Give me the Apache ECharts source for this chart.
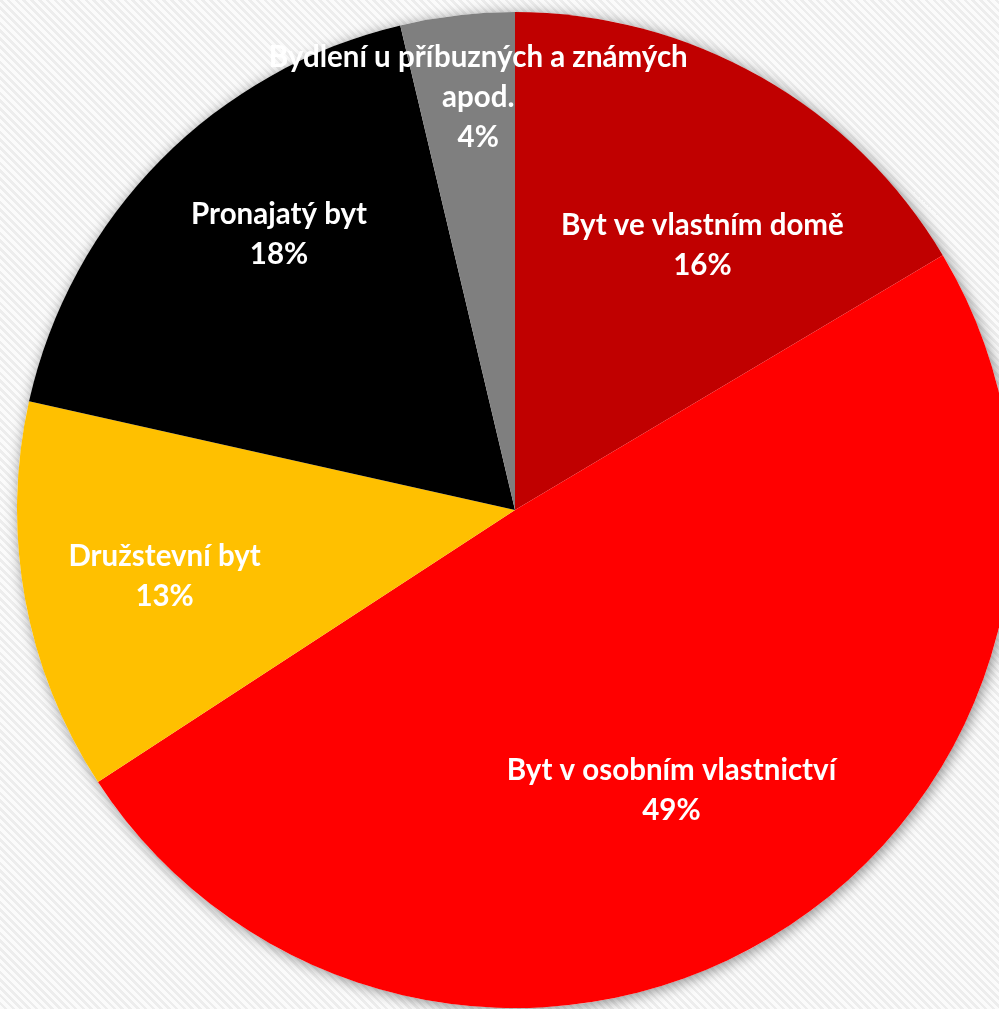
<!DOCTYPE html>
<html>
<head>
<meta charset="utf-8">
<script src="https://cdn.jsdelivr.net/npm/echarts@6/dist/echarts.min.js"></script>
<style>
html,body{margin:0;padding:0;}
body{background:repeating-linear-gradient(45deg,#fbfbfb 0px,#fbfbfb 3px,#ededed 3px,#ededed 5.5px);}
#chart{width:999px;height:1009px;}
</style>
</head>
<body>
<div id="chart"></div>
<script>
const categories = ['Byt ve vlastním domě','Byt v osobním vlastnictví','Družstevní byt','Pronajatý byt','Bydlení u příbuzných a známých apod.'];
const labelNames = ['Byt ve vlastním domě','Byt v osobním vlastnictví','Družstevní byt','Pronajatý byt','Bydlení u příbuzných a známých\napod.'];
const values = [16.45, 49.35, 12.7, 17.8, 3.7];
const colors = ['#C00000','#FF0000','#FFC000','#000000','#7F7F7F'];
const labelShift = [[18,34],[-25,-10],[-13,5],[8,-35],[3,-72]];

const total = values.reduce((a,b)=>a+b,0);
const cx = 515, cy = 510, R = 498;

const chart = echarts.init(document.getElementById('chart'), null, {renderer:'canvas'});
chart.setOption({
  backgroundColor:'transparent',
  animation:false,
  series:[
    {
      type:'pie', silent:true, z:1,
      center:[cx,cy], radius:[0,R],
      label:{show:false}, labelLine:{show:false},
      itemStyle:{color:'#ffffff', shadowBlur:14, shadowColor:'rgba(0,0,0,0.45)', shadowOffsetX:2, shadowOffsetY:2},
      data:[{value:1,name:'bg'}]
    },
    {
      type:'pie', silent:true, z:2,
      center:[cx,cy], radius:[0,R],
      startAngle:90, clockwise:true,
      label:{show:false}, labelLine:{show:false},
      itemStyle:{borderWidth:0},
      data: categories.map((c,i)=>({name:c, value:values[i], itemStyle:{color:colors[i]}}))
    },
    {
      type:'pie', silent:true, z:3,
      center:[cx,cy], radius:[0,R*1.365],
      startAngle:90, clockwise:true,
      itemStyle:{color:'transparent', borderWidth:0},
      labelLine:{show:false},
      label:{
        show:true, position:'inside', color:'#ffffff',
        fontFamily:'Lato', fontWeight:'bold', fontSize:29.5, lineHeight:40,
        formatter: p => labelNames[p.dataIndex] + '\n' + Math.round(p.value/total*100) + '%'
      },
      labelLayout: p => ({dx: labelShift[p.dataIndex][0], dy: labelShift[p.dataIndex][1]}),
      data: categories.map((c,i)=>({name:c, value:values[i]}))
    }
  ]
});
</script>
</body>
</html>
